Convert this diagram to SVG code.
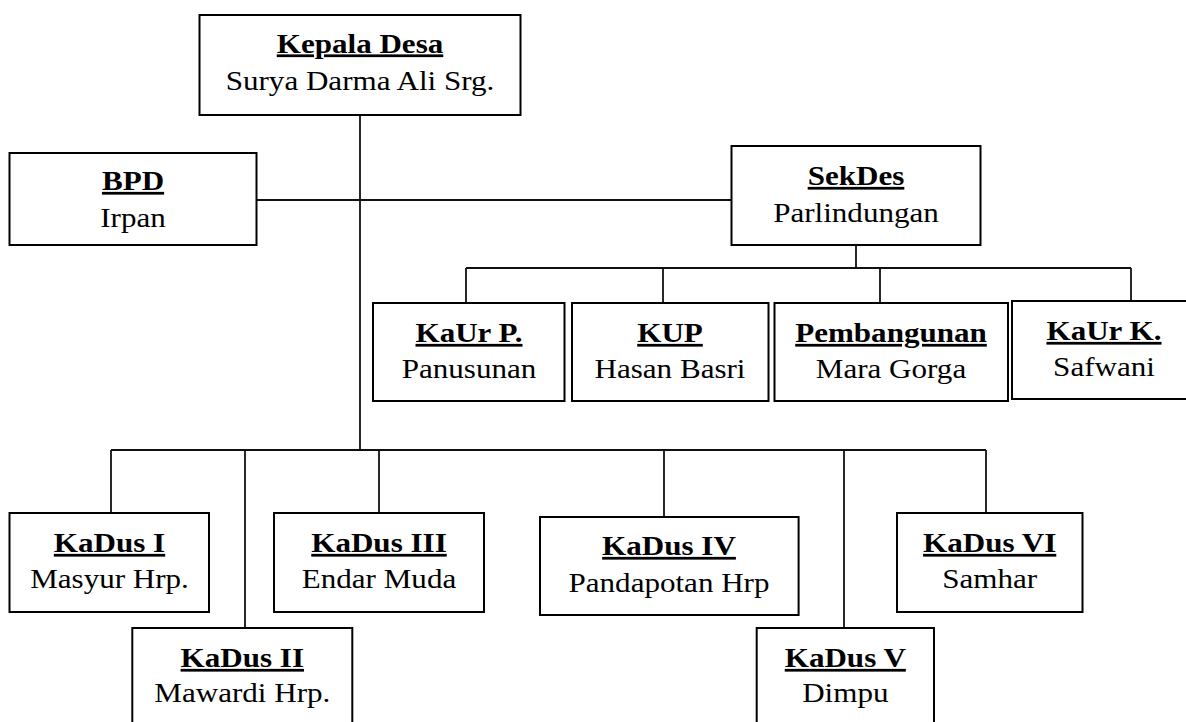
<svg xmlns="http://www.w3.org/2000/svg" width="1186" height="722" viewBox="0 0 1186 722">
  <style>
    .box { fill: #ffffff; stroke: #000000; stroke-width: 2; }
    .conn { fill: none; stroke: #111111; stroke-width: 1.8; }
    text { font-family: "Liberation Serif", "Times New Roman", serif; font-size: 27.5px; fill: #000000; text-anchor: middle; }
    .title { font-weight: bold; text-decoration: underline; text-decoration-thickness: 3px; text-underline-offset: 3px; }
  </style>
  <rect x="0" y="0" width="1186" height="722" fill="#ffffff"/>
  <g id="connectors">
    <line class="conn" x1="360" y1="115" x2="360" y2="450"/>
    <line class="conn" x1="256.5" y1="200" x2="731.5" y2="200"/>
    <line class="conn" x1="856" y1="245" x2="856" y2="268"/>
    <line class="conn" x1="466" y1="268" x2="1131" y2="268"/>
    <line class="conn" x1="466" y1="268" x2="466" y2="303"/>
    <line class="conn" x1="663" y1="268" x2="663" y2="303"/>
    <line class="conn" x1="880" y1="268" x2="880" y2="303"/>
    <line class="conn" x1="1131" y1="268" x2="1131" y2="301"/>
    <line class="conn" x1="111" y1="450" x2="986" y2="450"/>
    <line class="conn" x1="111" y1="450" x2="111" y2="513"/>
    <line class="conn" x1="245" y1="450" x2="245" y2="628"/>
    <line class="conn" x1="379" y1="450" x2="379" y2="513"/>
    <line class="conn" x1="664" y1="450" x2="664" y2="517"/>
    <line class="conn" x1="844" y1="450" x2="844" y2="628"/>
    <line class="conn" x1="986" y1="450" x2="986" y2="513"/>
  </g>
  <g id="kepala-desa">
    <rect class="box" x="199.5" y="15" width="321" height="100"/>
    <text class="title" transform="translate(360 52.5) scale(1.13 1)">Kepala Desa</text>
    <text transform="translate(360 90) scale(1.13 1)">Surya Darma Ali Srg.</text>
  </g>
  <g id="bpd">
    <rect class="box" x="9.5" y="153" width="247" height="92"/>
    <text class="title" transform="translate(133 190) scale(1.13 1)">BPD</text>
    <text transform="translate(133 227) scale(1.13 1)">Irpan</text>
  </g>
  <g id="sekdes">
    <rect class="box" x="731.5" y="146" width="249" height="99"/>
    <text class="title" transform="translate(856 185) scale(1.13 1)">SekDes</text>
    <text transform="translate(856 222) scale(1.13 1)">Parlindungan</text>
  </g>
  <g id="kaur-p">
    <rect class="box" x="373" y="303" width="191.5" height="98"/>
    <text class="title" transform="translate(469 342) scale(1.13 1)">KaUr P.</text>
    <text transform="translate(469 378) scale(1.13 1)">Panusunan</text>
  </g>
  <g id="kup">
    <rect class="box" x="572" y="303" width="196.5" height="98"/>
    <text class="title" transform="translate(670 342) scale(1.13 1)">KUP</text>
    <text transform="translate(670 378) scale(1.13 1)">Hasan Basri</text>
  </g>
  <g id="pembangunan">
    <rect class="box" x="774.5" y="303" width="233.5" height="98"/>
    <text class="title" transform="translate(891 342) scale(1.13 1)">Pembangunan</text>
    <text transform="translate(891 378) scale(1.13 1)">Mara Gorga</text>
  </g>
  <g id="kaur-k">
    <rect class="box" x="1012" y="301" width="184" height="98"/>
    <text class="title" transform="translate(1104 340) scale(1.13 1)">KaUr K.</text>
    <text transform="translate(1104 376) scale(1.13 1)">Safwani</text>
  </g>
  <g id="kadus-1">
    <rect class="box" x="9.5" y="513" width="199.5" height="99"/>
    <text class="title" transform="translate(109.5 552) scale(1.13 1)">KaDus I</text>
    <text transform="translate(109.5 588) scale(1.13 1)">Masyur Hrp.</text>
  </g>
  <g id="kadus-2">
    <rect class="box" x="132.3" y="628" width="220" height="110"/>
    <text class="title" transform="translate(242.3 667) scale(1.13 1)">KaDus II</text>
    <text transform="translate(242.3 702) scale(1.13 1)">Mawardi Hrp.</text>
  </g>
  <g id="kadus-3">
    <rect class="box" x="274" y="513" width="210" height="99"/>
    <text class="title" transform="translate(379 552) scale(1.13 1)">KaDus III</text>
    <text transform="translate(379 588) scale(1.13 1)">Endar Muda</text>
  </g>
  <g id="kadus-4">
    <rect class="box" x="540" y="517" width="258.6" height="98"/>
    <text class="title" transform="translate(669 555) scale(1.13 1)">KaDus IV</text>
    <text transform="translate(669 592) scale(1.13 1)">Pandapotan Hrp</text>
  </g>
  <g id="kadus-5">
    <rect class="box" x="756.7" y="628" width="177.3" height="110"/>
    <text class="title" transform="translate(845.3 667) scale(1.13 1)">KaDus V</text>
    <text transform="translate(845.3 702) scale(1.13 1)">Dimpu</text>
  </g>
  <g id="kadus-6">
    <rect class="box" x="897" y="513" width="185.5" height="99"/>
    <text class="title" transform="translate(989.7 552) scale(1.13 1)">KaDus VI</text>
    <text transform="translate(989.7 588) scale(1.13 1)">Samhar</text>
  </g>
</svg>
